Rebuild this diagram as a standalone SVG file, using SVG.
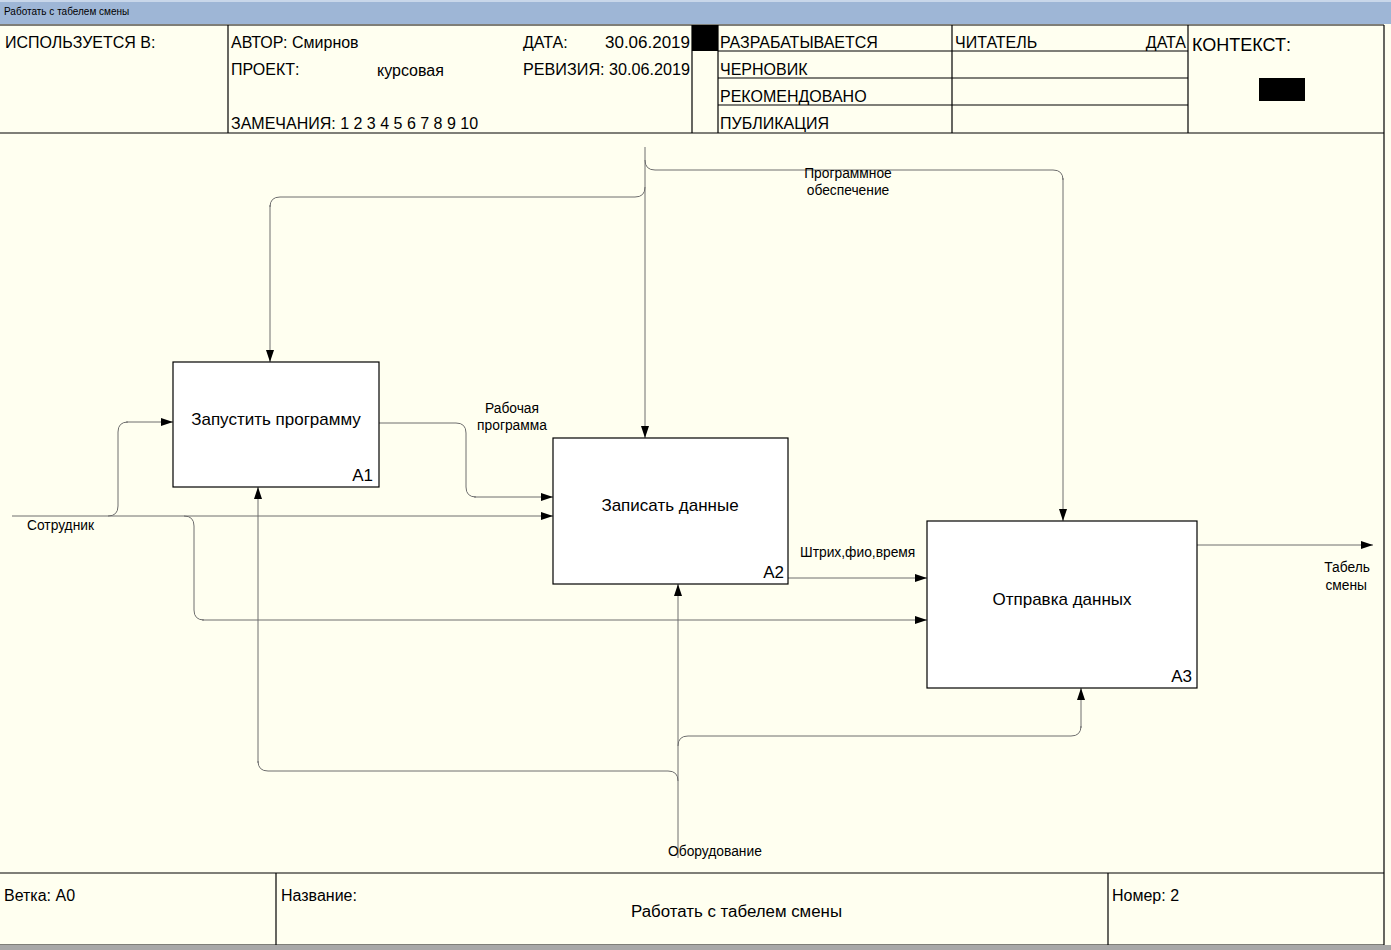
<svg xmlns="http://www.w3.org/2000/svg" width="1391" height="950" viewBox="0 0 1391 950">
<defs>
<marker id="ah" viewBox="0 0 12 8" refX="12" refY="4" markerWidth="12" markerHeight="8" markerUnits="userSpaceOnUse" orient="auto">
<path d="M0,0 L12,4 L0,8 Z" fill="#000"/>
</marker>
<style>
.hdr{font-family:"Liberation Sans",Arial,sans-serif;font-size:16px;fill:#000}
.lbl{font-family:"Liberation Sans",Arial,sans-serif;font-size:13.8px;fill:#000}
.box{fill:#fff;stroke:#000;stroke-width:1.2}
.bt{font-family:"Liberation Sans",Arial,sans-serif;font-size:17px;fill:#000}
.ln{stroke:#000;stroke-width:1.2;fill:none}
.c{stroke:#6e6e6e;stroke-width:1;fill:none}
.ca{stroke:#6e6e6e;stroke-width:1;fill:none;marker-end:url(#ah)}
</style>
</defs>
<rect x="0" y="0" width="1391" height="950" fill="#fffff0"/>
<g id="titlebar">
<rect x="0" y="0" width="1391" height="24" fill="#9eb6d6"/>
<rect x="0" y="0" width="1391" height="2" fill="#c9d7ea"/>
<text x="4" y="15" style="font-family:'Liberation Sans',Arial,sans-serif;font-size:10px;fill:#000">Работать с табелем смены</text>
</g>
<g id="header">
<line class="ln" x1="0" y1="25" x2="1384" y2="25"/>
<line class="ln" x1="0" y1="133" x2="1384" y2="133"/>
<line class="ln" x1="228" y1="25" x2="228" y2="133"/>
<line class="ln" x1="692" y1="25" x2="692" y2="133"/>
<line class="ln" x1="718" y1="25" x2="718" y2="133"/>
<line class="ln" x1="952" y1="25" x2="952" y2="133"/>
<line class="ln" x1="1188" y1="25" x2="1188" y2="133"/>
<line class="ln" x1="1384" y1="25" x2="1384" y2="945"/>
<line class="ln" x1="718" y1="51" x2="1188" y2="51"/>
<line class="ln" x1="718" y1="78" x2="1188" y2="78"/>
<line class="ln" x1="718" y1="105" x2="1188" y2="105"/>
<rect x="692" y="25" width="26" height="26" fill="#000"/>
<rect x="1259" y="78" width="46" height="23" fill="#000"/>
<text class="hdr" x="5" y="48">ИСПОЛЬЗУЕТСЯ В:</text>
<text class="hdr" x="231" y="48">АВТОР: Смирнов</text>
<text class="hdr" x="231" y="75">ПРОЕКТ:</text>
<text class="hdr" x="377" y="76">курсовая</text>
<text class="hdr" x="231" y="129">ЗАМЕЧАНИЯ: 1 2 3 4 5 6 7 8 9 10</text>
<text class="hdr" x="523" y="48">ДАТА:</text>
<text class="hdr" x="605" y="48" textLength="85" lengthAdjust="spacingAndGlyphs">30.06.2019</text>
<text class="hdr" x="523" y="75" textLength="167" lengthAdjust="spacingAndGlyphs">РЕВИЗИЯ: 30.06.2019</text>
<text class="hdr" x="720" y="48">РАЗРАБАТЫВАЕТСЯ</text>
<text class="hdr" x="720" y="75">ЧЕРНОВИК</text>
<text class="hdr" x="720" y="102">РЕКОМЕНДОВАНО</text>
<text class="hdr" x="720" y="129">ПУБЛИКАЦИЯ</text>
<text class="hdr" x="955" y="48">ЧИТАТЕЛЬ</text>
<text class="hdr" x="1186" y="48" text-anchor="end">ДАТА</text>
<text class="hdr" x="1192" y="51" style="font-size:18px">КОНТЕКСТ:</text>
</g>
<g id="connectors">
<path class="ca" d="M645,147 L645,438"/>
<path class="c" d="M645,187 Q645,197 635,197 L280,197 Q270,197 270,207"/>
<path class="ca" d="M270,205 L270,362"/>
<path class="c" d="M645,160 Q645,170 655,170 L1053,170 Q1063,170 1063,180"/>
<path class="ca" d="M1063,178 L1063,521"/>
<path class="ca" d="M12,516 L553,516"/>
<path class="c" d="M108,516 Q118,516 118,506 L118,432 Q118,422 128,422"/>
<path class="ca" d="M126,422 L173,422"/>
<path class="c" d="M184,516 Q194,516 194,526 L194,610 Q194,620 204,620"/>
<path class="ca" d="M202,620 L927,620"/>
<path class="c" d="M379,423 L456,423 Q466,423 466,433 L466,487 Q466,497 476,497"/>
<path class="ca" d="M474,497 L553,497"/>
<path class="ca" d="M788,578 L927,578"/>
<path class="ca" d="M1197,545 L1373,545"/>
<path class="ca" d="M678,858 L678,584"/>
<path class="c" d="M678,781 Q678,771 668,771 L268,771 Q258,771 258,761"/>
<path class="ca" d="M258,763 L258,487"/>
<path class="c" d="M678,746 Q678,736 688,736 L1071,736 Q1081,736 1081,726"/>
<path class="ca" d="M1081,728 L1081,688"/>
<text class="lbl" x="848" y="178" text-anchor="middle">Программное</text>
<text class="lbl" x="848" y="195" text-anchor="middle">обеспечение</text>
<text class="lbl" x="27" y="530">Сотрудник</text>
<text class="lbl" x="512" y="413" text-anchor="middle">Рабочая</text>
<text class="lbl" x="512" y="430" text-anchor="middle">программа</text>
<text class="lbl" x="800" y="557">Штрих,фио,время</text>
<text class="lbl" x="1370" y="572" text-anchor="end">Табель</text>
<text class="lbl" x="1367" y="590" text-anchor="end">смены</text>
<text class="lbl" x="668" y="856">Оборудование</text>
</g>
<g id="A1">
<rect class="box" x="173" y="362" width="206" height="125"/>
<text class="bt" x="276" y="425" text-anchor="middle">Запустить программу</text>
<text class="bt" x="373" y="481" text-anchor="end">A1</text>
</g>
<g id="A2">
<rect class="box" x="553" y="438" width="235" height="146"/>
<text class="bt" x="670" y="511" text-anchor="middle">Записать данные</text>
<text class="bt" x="784" y="578" text-anchor="end">A2</text>
</g>
<g id="A3">
<rect class="box" x="927" y="521" width="270" height="167"/>
<text class="bt" x="1062" y="605" text-anchor="middle">Отправка данных</text>
<text class="bt" x="1192" y="682" text-anchor="end">A3</text>
</g>
<g id="footer">
<line class="ln" x1="0" y1="873" x2="1384" y2="873"/>
<line class="ln" x1="0" y1="945" x2="1384" y2="945"/>
<line class="ln" x1="276" y1="873" x2="276" y2="945"/>
<line class="ln" x1="1108" y1="873" x2="1108" y2="945"/>
<rect x="0" y="945" width="1391" height="5" fill="#a8a8a8"/>
<text class="hdr" x="4" y="901">Ветка: А0</text>
<text class="hdr" x="281" y="901">Название:</text>
<text class="hdr" x="631" y="917" textLength="211" lengthAdjust="spacingAndGlyphs">Работать с табелем смены</text>
<text class="hdr" x="1112" y="901">Номер: 2</text>
</g>
</svg>
